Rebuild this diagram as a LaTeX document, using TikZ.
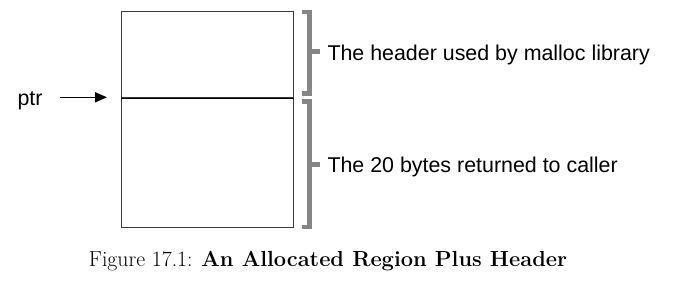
\documentclass[tikz,border=0pt]{standalone}
\usepackage{fontspec}
\newfontfamily\lsans{Liberation Sans}
\usetikzlibrary{arrows.meta}
\definecolor{brk}{HTML}{858585}
\definecolor{boxc}{HTML}{3A3A3A}
\begin{document}
\begin{tikzpicture}[x=1pt,y=-1pt,
  membox/.style={draw=boxc,line width=1.1pt,minimum width=172.3pt,inner sep=0pt,anchor=north west},
  lbl/.style={font=\lsans\fontsize{21.4}{25}\selectfont,inner sep=0pt,anchor=base west},
  brace/.style={draw=brk,line width=4.5pt,line join=miter,line cap=butt},
  ptrarrow/.style={draw=black,line width=1.6pt,-{Triangle[length=12pt,width=10pt]}}]
\useasboundingbox (0,0) rectangle (678,285);
\node[membox,minimum height=86.3pt] (hdr) at (121,11) {};
\node[membox,minimum height=130pt] (data) at (121,97.3) {};
\draw[black,line width=1pt] (hdr.south west) -- (hdr.south east);
\node[lbl] (ptr) at (17.3,105) {ptr};
\coordinate (ptrstart) at (60,97.3);
\draw[ptrarrow,shorten >=14pt] (ptrstart) -- (data.north west);
% brackets
\draw[brace] (301.7,12.2) -- (309.7,12.2) -- (309.7,93.7) -- (301.7,93.7);
\draw[brace] (309.7,51.7) -- (320,51.7);
\draw[brace] (301.7,101.3) -- (309.7,101.3) -- (309.7,227.2) -- (301.7,227.2);
\draw[brace] (309.7,164.3) -- (320,164.3);
\node[lbl] (t1) at (327.3,60) {The header used by malloc library};
\node[lbl] (t2) at (327.3,172.3) {The 20 bytes returned to caller};
\node[font=\fontsize{21.8}{26}\selectfont,inner sep=0pt,anchor=base] (cap) at (328,266.5)
  {Figure 17.1: \textbf{An Allocated Region Plus Header}};
\end{tikzpicture}
\end{document}
